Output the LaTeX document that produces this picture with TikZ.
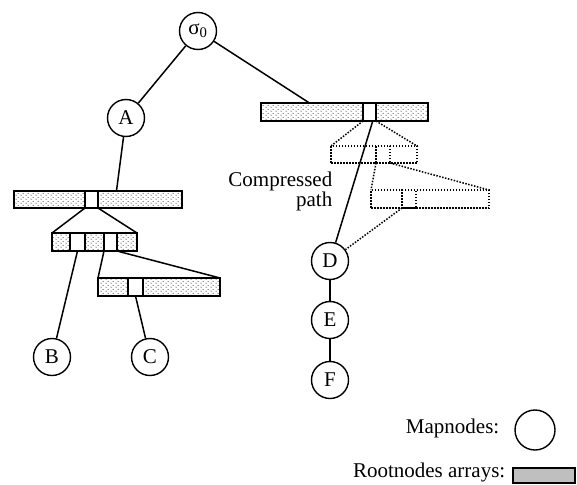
\documentclass[tikz,border=0pt]{standalone}
\usepackage{fontspec}
\setmainfont{Liberation Serif}
\usetikzlibrary{patterns.meta,calc}
\tikzdeclarepattern{
  name=arrdots,
  type=uncolored,
  bottom left={(0pt,0pt)},
  top right={(5pt,4pt)},
  tile size={(5pt,4pt)},
  code={\fill (1.25pt,1pt) circle (0.65pt); \fill (3.75pt,3pt) circle (0.65pt);}
}
\begin{document}
\begin{tikzpicture}[x=1pt,y=-1pt,line width=1.5pt,
  mapnode/.style={circle,draw,line width=1.4pt,minimum size=37pt,inner sep=0pt,font=\fontsize{21}{21}\selectfont},
  arr/.style={draw,rectangle,inner sep=0pt,outer sep=0pt,pattern=arrdots,pattern color=black!85,minimum height=18pt},
  cell/.style={draw,fill=white,rectangle,inner sep=0pt,outer sep=0pt,minimum height=18pt},
  ghost/.style={draw,rectangle,inner sep=0pt,outer sep=0pt,line width=1.5pt,dash pattern=on 1.5pt off 1.5pt,minimum height=17pt},
  dlink/.style={line width=1.5pt,dash pattern=on 1.5pt off 1.5pt},
  lbl/.style={font=\fontsize{21}{21}\selectfont,inner sep=0pt}]
\useasboundingbox (0,0) rectangle (577,484);

% map nodes
\node[mapnode] (s) at (198,31) {σ\textsubscript{0}};
\node[mapnode] (A) at (126,118) {A};
\node[mapnode] (B) at (52,357) {B};
\node[mapnode] (C) at (150,357) {C};
\node[mapnode] (D) at (330,261) {D};
\node[mapnode] (E) at (330,320) {E};
\node[mapnode] (F) at (330,380) {F};

% rootnode arrays
\node[arr,minimum width=167pt] (tr) at (344.5,112) {};
\node[cell,minimum width=13pt] (ctr) at (369.5,112) {};
\node[arr,minimum width=168pt,minimum height=17pt] (l1) at (98,199.5) {};
\node[cell,minimum width=13pt,minimum height=17pt] (c1) at (91.5,199.5) {};
\node[arr,minimum width=85pt] (l2) at (94.5,242) {};
\node[cell,minimum width=15pt] (c21) at (77.5,242) {};
\node[cell,minimum width=13pt] (c22) at (110.5,242) {};
\node[arr,minimum width=122pt] (l3) at (159,287) {};
\node[cell,minimum width=15pt] (c3) at (135.5,287) {};

% compressed (ghost) arrays
\node[ghost,minimum width=86pt] (g1) at (374,154.5) {};
\node[ghost,minimum width=14pt] (cg1) at (383,154.5) {};
\node[ghost,minimum width=118pt,minimum height=18pt] (g2) at (430,199) {};
\node[ghost,minimum width=14pt,minimum height=18pt] (cg2) at (409,199) {};

% connectors
\coordinate (trin) at ($(tr.north west)!0.29!(tr.north east)$);
\coordinate (l1in) at ($(l1.north west)!0.61!(l1.north east)$);
\draw (s) -- (A);
\draw (s) -- (trin);
\draw (A) -- (l1in);
\draw (c1.south west) -- (l2.north west);
\draw (c1.south east) -- (l2.north east);
\draw (c21.south) -- (B);
\draw (c22.south west) -- (l3.north west);
\draw (c22.south east) -- (l3.north east);
\draw (c3.south) -- (C);
\draw ($(ctr.south)!0.5!(ctr.south east)$) -- (D);
\draw[dlink] (ctr.south west) -- (g1.north west);
\draw[dlink] (ctr.south east) -- (g1.north east);
\draw[dlink] (cg1.south west) -- (g2.north west);
\draw[dlink] (cg1.south east) -- (g2.north east);
\draw[dlink] (cg2.south west) -- (D);
\draw (D) -- (E);
\draw (E) -- (F);

\node[lbl,align=right,anchor=base east] (cp) at (333,206) {Compressed\\[-1pt]path};

% legend
\node[lbl,anchor=base east] (lm) at (500,433) {Mapnodes:};
\node[mapnode,minimum size=40pt] (lc) at (535,430) {};
\node[lbl,anchor=base east] (lr) at (506,477) {Rootnodes arrays:};
\node[draw,fill=black!25,inner sep=0pt,outer sep=0pt,minimum width=62pt,minimum height=15pt] (lrect) at (544,475.5) {};
\end{tikzpicture}
\end{document}
